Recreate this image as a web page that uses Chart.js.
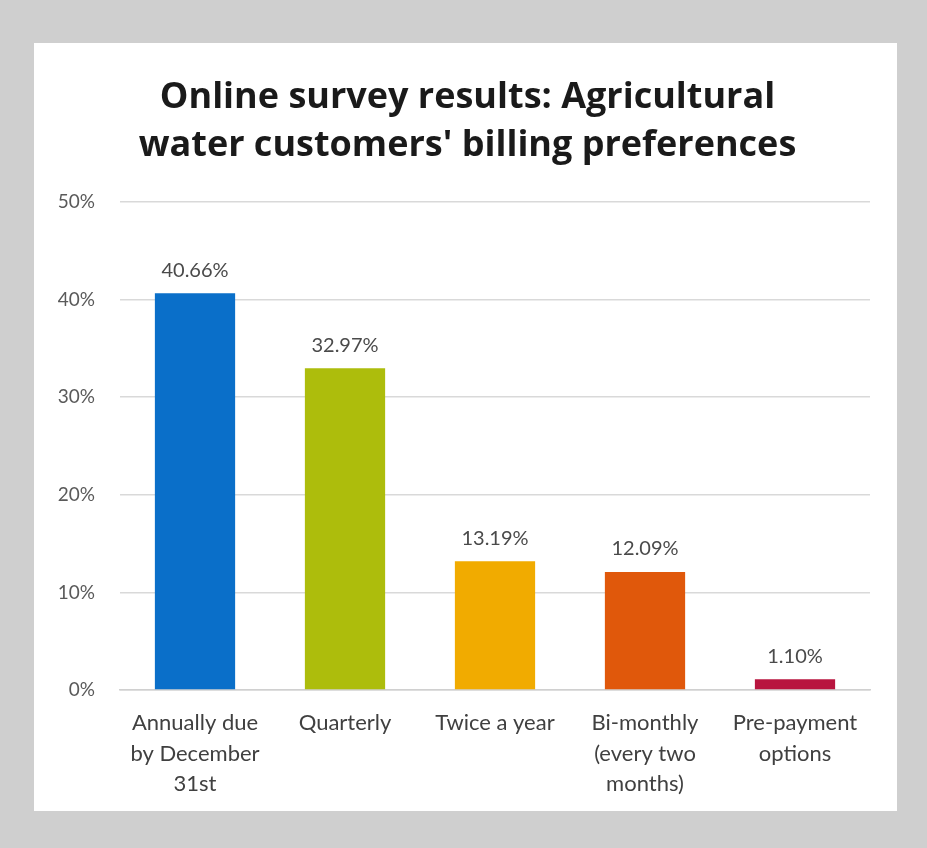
<!DOCTYPE html>
<html>
<head>
<meta charset="utf-8">
<script src="https://cdn.jsdelivr.net/npm/chart.js@4.4.1/dist/chart.umd.min.js"></script>
<style>
  html, body { margin: 0; padding: 0; background: #cfcfcf; }
  body { width: 927px; height: 848px; position: relative; overflow: hidden; }
  #panel { position: absolute; left: 34px; top: 43px; width: 863px; height: 768px; background: #fff; }
</style>
</head>
<body>
<div id="panel"><canvas id="Chart1" width="863" height="768"></canvas></div>
<script>
// survey data
let categories = [
    ["Annually due", "by December", "31st"],
    ["Quarterly"],
    ["Twice a year"],
    ["Bi-monthly", "(every two", "months)"],
    ["Pre-payment", "options"]
]
let valores = [40.66, 32.97, 13.19, 12.09, 1.10]
let colores = ["#0a6fc9", "#adbd0c", "#f1ab00", "#e0580b", "#b8153f"]
let yTicks = [0, 10, 20, 30, 40, 50]
let titulo = ["Online survey results: Agricultural", "water customers' billing preferences"]

// titulo dibujado a mano, centrado un poco a la derecha como en la imagen
const tituloPlugin = {
    id: "tituloPlugin",
    afterDraw(chart){
        const ctx = chart.ctx
        ctx.save()
        ctx.font = "bold 36px 'Open Sans'"
        ctx.fillStyle = "#1a1a1a"
        ctx.textAlign = "center"
        ctx.textBaseline = "middle"
        titulo.forEach((linea, i) => {
            ctx.fillText(linea, chart.width / 2 + 2, 55 + i * 48)
        })
        ctx.restore()
    }
}

// etiquetas encima de las barras (no hay datalabels plugin)
const barLabels = {
    id: "barLabels",
    afterDatasetsDraw(chart){
        const ctx = chart.ctx
        const meta = chart.getDatasetMeta(0)
        ctx.save()
        ctx.font = "20px Lato"
        ctx.fillStyle = "#4a4a4a"
        ctx.textAlign = "center"
        ctx.textBaseline = "middle"
        meta.data.forEach((bar, i) => {
            ctx.fillText(valores[i].toFixed(2) + "%", bar.x, bar.y - 23)
        })
        ctx.restore()
    }
}

new Chart(document.getElementById("Chart1"), {
    type: "bar",
    data: {
        labels: categories,
        datasets: [{
            label: "Billing preference",
            data: valores,
            backgroundColor: colores,
            borderWidth: 0,
            barPercentage: 1,
            categoryPercentage: 0.535
        }]
    },
    options: {
        responsive: false,
        animation: false,
        layout: { padding: { left: 0, right: 27, top: 159, bottom: 0 } },
        plugins: {
            legend: { display: false },
            tooltip: { enabled: false },
            title: { display: false }
        },
        scales: {
            y: {
                min: 0,
                max: 50,
                afterFit(scale){ scale.width = 86 },
                afterBuildTicks(scale){ scale.ticks = yTicks.map(v => ({ value: v })) },
                border: { display: false },
                grid: { color: "#d9d9d9", lineWidth: 1.5, drawTicks: false },
                ticks: {
                    color: "#5a5a5a",
                    font: { family: "Lato", size: 19 },
                    padding: 25,
                    callback: v => v + "%"
                }
            },
            x: {
                afterFit(scale){ scale.height = 121 },
                border: { display: true, color: "#d0d0d0", width: 1.5 },
                grid: { display: false, drawTicks: false },
                ticks: {
                    color: "#404040",
                    font: { family: "Lato", size: 22, lineHeight: 1.38 },
                    padding: 18,
                    maxRotation: 0
                }
            }
        }
    },
    plugins: [barLabels, tituloPlugin]
})
</script>
</body>
</html>
